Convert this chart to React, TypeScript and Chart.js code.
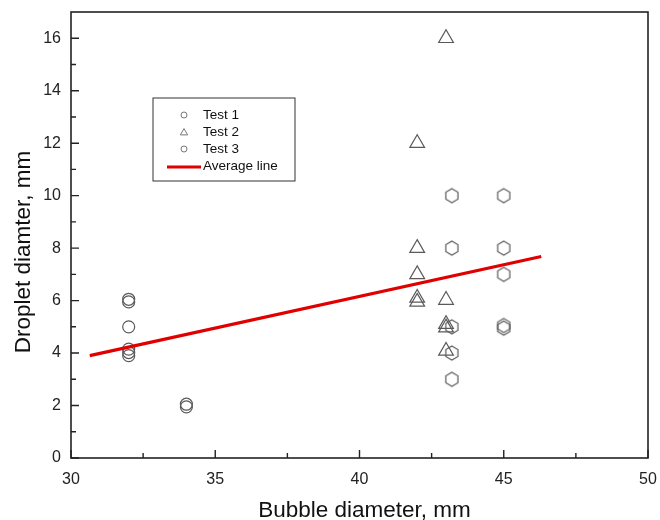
import React, { useEffect, useRef } from 'react';
import { Chart, registerables } from 'chart.js';

Chart.register(...registerables);

// ---- data ----
const test1X = [32, 32, 32, 32, 32, 32, 34, 34];
const test1Y = [6.05, 5.95, 5.0, 4.15, 4.02, 3.9, 2.05, 1.95];

const test2X = [43, 42, 42, 42, 42, 42, 43, 43, 43, 43];
const test2Y = [16, 12, 8, 7, 6.1, 5.95, 6.02, 5.1, 4.97, 4.08];

const test3X = [43.2, 43.2, 43.2, 43.2, 43.2, 45, 45, 45, 45, 45];
const test3Y = [10, 8, 5, 4, 3, 10, 8, 7, 5.05, 4.95];

const avgX = [30.65, 46.3];
const avgY = [3.9, 7.68];

const xTickValues = [30, 35, 40, 45, 50];
const xMinorValues = [32.5, 37.5, 42.5, 47.5];
const yTickValues = [0, 2, 4, 6, 8, 10, 12, 14, 16];
const yMinorValues = [1, 3, 5, 7, 9, 11, 13, 15];

const seriesLabels = ['Test 1', 'Test 2', 'Test 3', 'Average line'];
const xTitle = 'Bubble diameter, mm';
const yTitle = 'Droplet diamter, mm';

const FONT = "'Liberation Sans', Arial, sans-serif";
const MARK = '#5a5a5a';

function makeHexagon(r: number, color: string): HTMLCanvasElement {
  const size = Math.ceil(r * 2 + 4);
  const c = document.createElement('canvas');
  c.width = size;
  c.height = size;
  const ctx = c.getContext('2d')!;
  const cx = size / 2;
  const cy = size / 2;
  ctx.strokeStyle = color;
  ctx.lineWidth = 1.2;
  ctx.beginPath();
  for (let i = 0; i < 6; i++) {
    const a = -Math.PI / 2 + (i * Math.PI) / 3;
    const px = cx + r * Math.cos(a);
    const py = cy + r * Math.sin(a);
    if (i === 0) ctx.moveTo(px, py);
    else ctx.lineTo(px, py);
  }
  ctx.closePath();
  ctx.stroke();
  return c;
}

const framePlugin = {
  id: 'frameTicks',
  afterDraw(chart: any) {
    const { ctx, chartArea } = chart;
    const xs = chart.scales.x;
    const ys = chart.scales.y;
    const { left, right, top, bottom } = chartArea;
    ctx.save();
    ctx.strokeStyle = '#222';
    ctx.lineWidth = 1.6;
    ctx.strokeRect(left, top, right - left, bottom - top);
    ctx.lineWidth = 1.4;
    ctx.beginPath();
    xTickValues.forEach((v) => {
      const p = xs.getPixelForValue(v);
      ctx.moveTo(p, bottom);
      ctx.lineTo(p, bottom - 8);
    });
    xMinorValues.forEach((v) => {
      const p = xs.getPixelForValue(v);
      ctx.moveTo(p, bottom);
      ctx.lineTo(p, bottom - 5);
    });
    yTickValues.forEach((v) => {
      const p = ys.getPixelForValue(v);
      ctx.moveTo(left, p);
      ctx.lineTo(left + 8, p);
    });
    yMinorValues.forEach((v) => {
      const p = ys.getPixelForValue(v);
      ctx.moveTo(left, p);
      ctx.lineTo(left + 5, p);
    });
    ctx.stroke();

    // axis titles
    ctx.fillStyle = '#111';
    ctx.font = `22.5px ${FONT}`;
    ctx.textAlign = 'center';
    ctx.textBaseline = 'alphabetic';
    ctx.fillText(xTitle, (left + right) / 2 + 5, bottom + 59);
    ctx.save();
    ctx.translate(29.5, (top + bottom) / 2 + 17);
    ctx.rotate(-Math.PI / 2);
    ctx.fillText(yTitle, 0, 0);
    ctx.restore();

    // legend
    const lx = left + 82;
    const ly = top + 86;
    const lw = 142;
    const lh = 83;
    ctx.strokeStyle = '#333';
    ctx.lineWidth = 1;
    ctx.strokeRect(lx, ly, lw, lh);
    ctx.font = `13.5px ${FONT}`;
    ctx.textAlign = 'left';
    ctx.textBaseline = 'middle';
    ctx.fillStyle = '#111';
    const rows = [17, 34, 51, 68];
    const mx = lx + 31;
    const tx = lx + 50;
    ctx.strokeStyle = '#777';
    ctx.lineWidth = 1;
    // Test 1 marker
    ctx.beginPath();
    ctx.arc(mx, ly + rows[0], 3, 0, Math.PI * 2);
    ctx.stroke();
    // Test 2 marker
    ctx.beginPath();
    const tr = 4.2;
    for (let i = 0; i < 3; i++) {
      const a = -Math.PI / 2 + (i * 2 * Math.PI) / 3;
      const px = mx + tr * Math.cos(a);
      const py = ly + rows[1] + 0.8 + tr * Math.sin(a);
      if (i === 0) ctx.moveTo(px, py);
      else ctx.lineTo(px, py);
    }
    ctx.closePath();
    ctx.stroke();
    // Test 3 marker
    ctx.beginPath();
    ctx.arc(mx, ly + rows[2], 3, 0, Math.PI * 2);
    ctx.stroke();
    // Average line
    ctx.strokeStyle = '#e00000';
    ctx.lineWidth = 3;
    ctx.beginPath();
    ctx.moveTo(lx + 14, ly + rows[3] + 1);
    ctx.lineTo(lx + 48, ly + rows[3] + 1);
    ctx.stroke();
    seriesLabels.forEach((s, i) => {
      ctx.fillText(s, tx, ly + rows[i]);
    });
    ctx.restore();
  },
};

export default function App() {
  const ref = useRef<HTMLCanvasElement | null>(null);

  useEffect(() => {
    if (!ref.current) return;
    const hex = makeHexagon(7, MARK);
    const toPts = (xs: number[], ys: number[]) => xs.map((x, i) => ({ x, y: ys[i] }));
    const chart = new Chart(ref.current, {
      type: 'scatter',
      data: {
        datasets: [
          {
            label: seriesLabels[3],
            type: 'line',
            data: toPts(avgX, avgY),
            borderColor: '#e00000',
            borderWidth: 3.2,
            pointRadius: 0,
            showLine: true,
            fill: false,
            order: 0,
          } as any,
          {
            label: seriesLabels[0],
            data: toPts(test1X, test1Y),
            pointStyle: 'circle',
            pointRadius: 6,
            borderColor: MARK,
            backgroundColor: 'rgba(0,0,0,0)',
            borderWidth: 1.2,
            order: 1,
          },
          {
            label: seriesLabels[1],
            data: toPts(test2X, test2Y),
            pointStyle: 'triangle',
            pointRadius: 8.5,
            borderColor: MARK,
            backgroundColor: 'rgba(0,0,0,0)',
            borderWidth: 1.2,
            order: 1,
          },
          {
            label: seriesLabels[2],
            data: toPts(test3X, test3Y),
            pointStyle: hex as any,
            pointRadius: 7,
            borderColor: MARK,
            backgroundColor: 'rgba(0,0,0,0)',
            borderWidth: 1.2,
            order: 1,
          },
        ],
      },
      options: {
        responsive: false,
        animation: false,
        layout: { padding: { left: 0, top: 12, right: 12, bottom: 0 } },
        plugins: {
          legend: { display: false },
          tooltip: { enabled: false },
        },
        scales: {
          x: {
            type: 'linear',
            min: 30,
            max: 50,
            grid: { display: false, drawTicks: false },
            border: { display: false },
            afterBuildTicks: (s: any) => {
              s.ticks = xTickValues.map((v) => ({ value: v }));
            },
            afterFit: (s: any) => {
              s.height = 62;
              s.paddingLeft = 0;
              s.paddingRight = 0;
            },
            ticks: {
              padding: 12,
              color: '#222',
              font: { family: FONT, size: 16 },
              maxRotation: 0,
            },
          },
          y: {
            type: 'linear',
            min: 0,
            max: 17,
            grid: { display: false, drawTicks: false },
            border: { display: false },
            afterBuildTicks: (s: any) => {
              s.ticks = yTickValues.map((v) => ({ value: v }));
            },
            afterFit: (s: any) => {
              s.width = 71;
              s.paddingTop = 0;
              s.paddingBottom = 0;
            },
            ticks: {
              padding: 10,
              color: '#222',
              font: { family: FONT, size: 16 },
            },
          },
        },
      },
      plugins: [framePlugin],
    });
    return () => chart.destroy();
  }, []);

  return (
    <div style={{ position: 'absolute', left: 0, top: 0, width: 660, height: 520, background: '#fff' }}>
      <canvas ref={ref} width={660} height={520} style={{ display: 'block' }} />
    </div>
  );
}
